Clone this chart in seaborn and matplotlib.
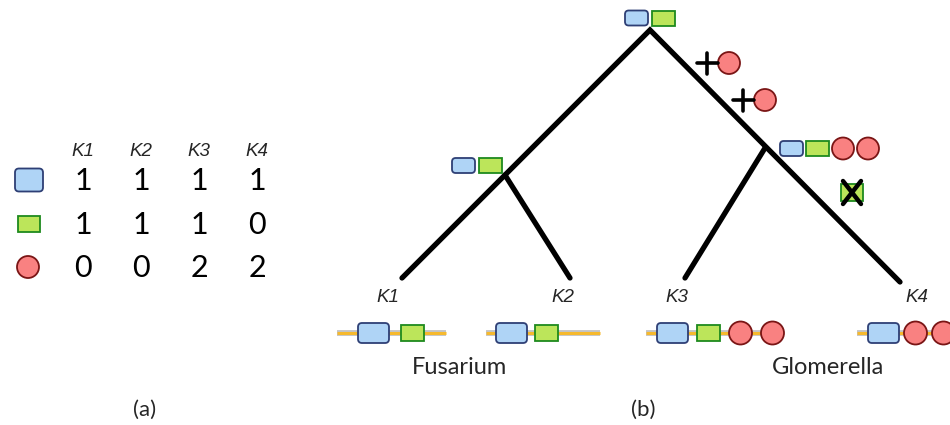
"""
Domain architecture of K1-K4 and their gain/loss along the species tree
"""
import matplotlib.pyplot as plt
import seaborn as sns
import numpy as np
import pandas as pd
from matplotlib.patches import FancyBboxPatch, Circle, Rectangle
from matplotlib.colors import ListedColormap

# ---- data ----
genomes = ['K1', 'K2', 'K3', 'K4']
domains = ['blue', 'green', 'red']
counts = [[1, 1, 1, 1],
          [1, 1, 1, 0],
          [0, 0, 2, 2]]
genera = ['Fusarium', 'Glomerella']
root_state = ['blue', 'green']
left_state = ['blue', 'green']
right_state = ['blue', 'green', 'red', 'red']
gains = ['red', 'red']      # on branch root -> right node
losses = ['green']          # on branch right node -> K4

# ---- colours ----
FILL = {'blue': '#afd4f6', 'green': '#bce55a', 'red': '#f98181'}
EDGE = {'blue': '#2e3f75', 'green': '#1e8a1e', 'red': '#7a1515'}
LINE_ORANGE = '#f6b92d'
LINE_GRAY = '#c4c4c4'

sns.set_theme(style="white")
plt.rcParams['font.family'] = ['Lato', 'DejaVu Sans']

fig = plt.figure(figsize=(9.5, 4.25), dpi=100)
ax = fig.add_axes([0, 0, 1, 1])
ax.set_xlim(0, 950)
ax.set_ylim(425, 0)
ax.axis('off')


def domain(ax, kind, x, yc, w, h, z=3):
    """draw one domain starting at x, returns right edge"""
    if kind == 'blue':
        r = min(4, h / 4)
        ax.add_patch(FancyBboxPatch((x + r, yc - h / 2 + r), w - 2 * r, h - 2 * r,
                                    boxstyle=f"round,pad={r}", fc=FILL[kind],
                                    ec=EDGE[kind], lw=1.3, zorder=z))
        return x + w
    if kind == 'green':
        ax.add_patch(Rectangle((x, yc - h / 2), w, h, fc=FILL[kind],
                               ec=EDGE[kind], lw=1.3, zorder=z))
        return x + w
    rad = h / 2
    ax.add_patch(Circle((x + rad, yc), rad, fc=FILL[kind], ec=EDGE[kind],
                        lw=1.3, zorder=z))
    return x + 2 * rad


def domain_row(ax, kinds, x, yc, sizes, gap):
    for k in kinds:
        w, h = sizes[k]
        x = domain(ax, k, x, yc, w, h) + gap
    return x


# ---- (a) table ----
tab = pd.DataFrame(counts, index=domains, columns=genomes)
tax = fig.add_axes([54 / 950, 1 - 290 / 425, 232 / 950, 131 / 425])
sns.heatmap(tab, annot=True, fmt='d', cmap=ListedColormap(['white']), cbar=False,
            xticklabels=False, yticklabels=False, linewidths=0, ax=tax,
            annot_kws={'fontsize': 22, 'color': 'black'})
tax.axis('off')

for i, g in enumerate(genomes):
    ax.text(83 + i * 58, 152, g, fontsize=13.5, style='italic',
            family='Liberation Sans', ha='center', va='center')
domain(ax, 'blue', 15, 180, 28, 23)
domain(ax, 'green', 18, 224, 22, 16)
domain(ax, 'red', 17, 267, 22, 22)
ax.text(145, 410, '(a)', fontsize=16, ha='center', va='center')

# ---- (b) tree ----
root = (650, 30)
node_l = (505, 175)
node_r = (765, 148)
leaves = [(402, 278), (570, 278), (685, 278), (900, 282)]
lw = 3.8
ax.plot([leaves[0][0], root[0], leaves[3][0]], [leaves[0][1], root[1], leaves[3][1]],
        color='black', lw=lw, solid_joinstyle='miter', zorder=2)
ax.plot([node_l[0], leaves[1][0]], [node_l[1], leaves[1][1]], color='black', lw=lw, zorder=2)
ax.plot([node_r[0], leaves[2][0]], [node_r[1], leaves[2][1]], color='black', lw=lw, zorder=2)

small = {'blue': (23, 15), 'green': (23, 15), 'red': (22, 22)}
domain_row(ax, root_state, 625, 18, small, 4)
domain_row(ax, left_state, 452, 165.5, small, 4)
domain_row(ax, right_state, 780, 148.5, small, 3)

# gains along root -> right branch
for (px, py), k in zip([(707, 63), (743, 100)], gains):
    ax.plot([px - 10, px + 11], [py, py], color='black', lw=2.6, zorder=4)
    ax.plot([px, px], [py - 10, py + 11], color='black', lw=2.6, zorder=4)
    domain(ax, k, px + 11, py, 22, 22)

# loss on right node -> K4
for k in losses:
    domain(ax, k, 841, 192, 22, 17)
    ax.plot([843, 861], [181, 204], color='black', lw=3.2, zorder=5)
    ax.plot([843, 861], [204, 181], color='black', lw=3.2, zorder=5)

# leaf labels
label_pos = [(388, 298), (563, 298), (677, 298), (917, 298)]
for (lx, ly), g in zip(label_pos, genomes):
    ax.text(lx, ly, g, fontsize=13.5, style='italic', family='Liberation Sans',
            ha='center', va='center')

# gene architectures under the leaves
big = {'blue': (31, 20), 'green': (23, 16), 'red': (23, 23)}
gene_lines = [(337, 446), (486, 600), (646, 783), (857, 960)]
gene_start = [358, 496, 657, 868]
gene_gap = [12, 8, 9, 5]
for j, g in enumerate(genomes):
    kinds = []
    for d, row in zip(domains, counts):
        kinds += [d] * row[j]
    x0, x1 = gene_lines[j]
    ax.plot([x0, x1], [333, 333], color=LINE_GRAY, lw=4.2, solid_capstyle='butt', zorder=1)
    ax.plot([x0, x1], [333, 333], color=LINE_ORANGE, lw=2.2, solid_capstyle='butt', zorder=1)
    domain_row(ax, kinds, gene_start[j], 333, big, gene_gap[j])

ax.text(460, 368, genera[0], fontsize=17, ha='center', va='center')
ax.text(828, 368, genera[1], fontsize=17, ha='center', va='center')
ax.text(643, 410, '(b)', fontsize=16, ha='center', va='center')

fig.savefig('out.png', dpi=100)
